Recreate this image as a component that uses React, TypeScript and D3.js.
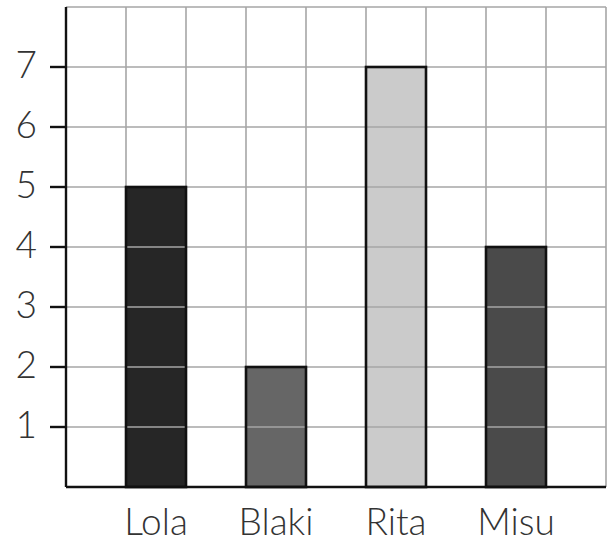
import React from "react";
import * as d3 from "d3";

const categories = ["Lola", "Blaki", "Rita", "Misu"];
const values = [5, 2, 7, 4];
const barColors = ["#262626", "#666666", "#cbcbcb", "#4a4a4a"];
const yTicks = [1, 2, 3, 4, 5, 6, 7];

const W = 614;
const H = 542;
const left = 66;
const right = 606;
const top = 7;
const bottom = 487;

export default function App() {
  const y = d3.scaleLinear().domain([0, 8]).range([bottom, top]);
  const x = d3.scaleLinear().domain([0, 9]).range([left, right]);
  const gridX = d3.range(1, 10);
  const gridY = d3.range(1, 9);
  const barCol = (i: number) => 1 + i * 2;
  const font = "Lato, 'Open Sans', sans-serif";

  return (
    <svg
      width={W}
      height={H}
      style={{ position: "absolute", left: 0, top: 0, background: "#fff" }}
    >
      {values.map((v, i) => (
        <rect
          key={"f" + i}
          x={x(barCol(i))}
          y={y(v)}
          width={x(barCol(i) + 1) - x(barCol(i))}
          height={y(0) - y(v)}
          fill={barColors[i]}
        />
      ))}
      {gridX.map((g) => (
        <line
          key={"gx" + g}
          x1={x(g)}
          x2={x(g)}
          y1={top}
          y2={bottom}
          stroke="#a6a6a6"
          strokeWidth={1.6}
        />
      ))}
      {gridY.map((g) => (
        <line
          key={"gy" + g}
          x1={left}
          x2={right}
          y1={y(g)}
          y2={y(g)}
          stroke="#a6a6a6"
          strokeWidth={1.6}
        />
      ))}
      {values.map((v, i) => (
        <rect
          key={"o" + i}
          x={x(barCol(i))}
          y={y(v)}
          width={x(barCol(i) + 1) - x(barCol(i))}
          height={y(0) - y(v)}
          fill="none"
          stroke="#111"
          strokeWidth={2.6}
        />
      ))}
      <line x1={left} x2={left} y1={top} y2={bottom} stroke="#111" strokeWidth={2.4} />
      <line x1={left} x2={right} y1={bottom} y2={bottom} stroke="#111" strokeWidth={2.4} />
      {yTicks.map((t) => (
        <g key={"t" + t}>
          <line x1={50} x2={left} y1={y(t)} y2={y(t)} stroke="#111" strokeWidth={2.4} />
          <text
            x={37}
            y={y(t) + 11}
            textAnchor="end"
            fontFamily={font}
            fontWeight={300}
            fontSize={37}
            fill="#333"
          >
            {t}
          </text>
        </g>
      ))}
      {categories.map((c, i) => (
        <text
          key={"c" + i}
          x={(x(barCol(i)) + x(barCol(i) + 1)) / 2}
          y={535}
          textAnchor="middle"
          fontFamily={font}
          fontWeight={300}
          fontSize={37}
          fill="#333"
        >
          {c}
        </text>
      ))}
    </svg>
  );
}
